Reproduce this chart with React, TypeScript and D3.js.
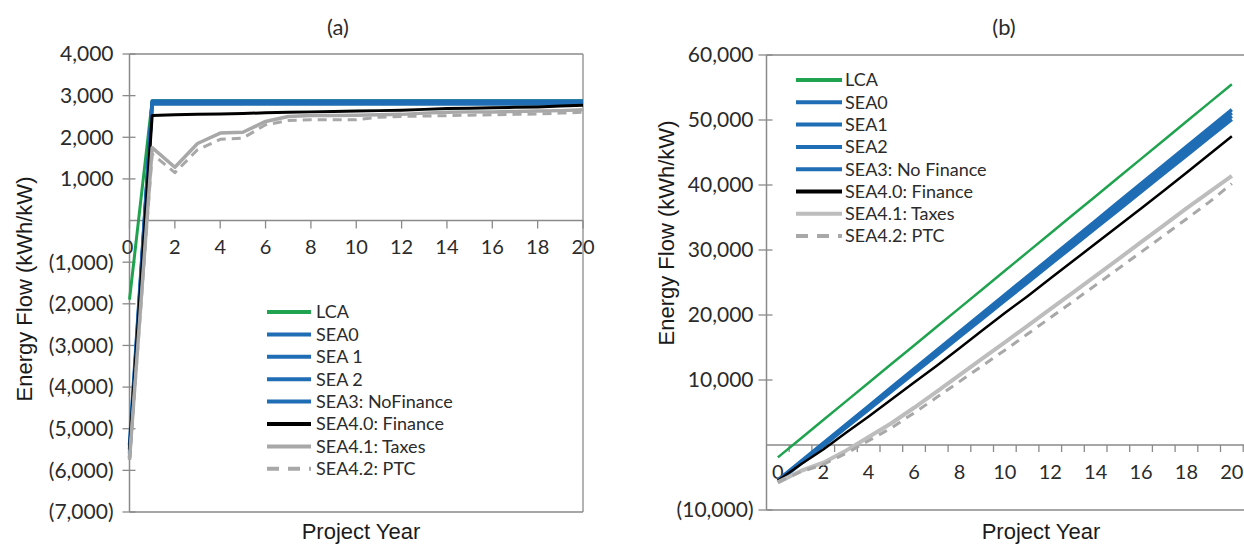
import React from "react";
import * as d3 from "d3";

// ---------- Data ----------
const yearsA = d3.range(0, 21);
const lcaA = [-1900, 2880, 2880, 2880, 2880, 2880, 2880, 2880, 2880, 2880, 2880, 2880, 2880, 2880, 2880, 2880, 2880, 2880, 2880, 2880, 2880];
const sea0A = [-5400, 2870, 2870, 2870, 2870, 2870, 2870, 2870, 2870, 2870, 2870, 2870, 2870, 2870, 2870, 2870, 2870, 2870, 2870, 2870, 2870];
const sea1A = [-5500, 2850, 2850, 2850, 2850, 2850, 2850, 2850, 2850, 2850, 2850, 2850, 2850, 2850, 2850, 2850, 2850, 2850, 2850, 2850, 2850];
const sea2A = [-5600, 2820, 2820, 2820, 2820, 2820, 2820, 2820, 2820, 2820, 2820, 2820, 2820, 2820, 2820, 2820, 2820, 2820, 2820, 2820, 2820];
const sea3A = [-5700, 2800, 2800, 2800, 2800, 2800, 2800, 2800, 2800, 2800, 2800, 2800, 2800, 2800, 2800, 2800, 2800, 2800, 2800, 2800, 2800];
const sea40A = [-5500, 2520, 2540, 2550, 2560, 2570, 2590, 2600, 2610, 2620, 2630, 2640, 2650, 2670, 2690, 2700, 2710, 2720, 2730, 2750, 2770];
const sea41A = [-5750, 1750, 1280, 1850, 2100, 2120, 2380, 2500, 2520, 2520, 2530, 2540, 2550, 2580, 2600, 2610, 2610, 2620, 2630, 2640, 2660];
const sea42A = [-5750, 1600, 1150, 1700, 1950, 1980, 2300, 2400, 2420, 2420, 2420, 2480, 2500, 2510, 2520, 2530, 2540, 2550, 2560, 2580, 2600];

const yearsB = d3.range(0, 21);
const lcaB = [-1900, 970, 3840, 6710, 9580, 12450, 15320, 18190, 21060, 23930, 26800, 29670, 32540, 35410, 38280, 41150, 44020, 46890, 49760, 52630, 55500];
const sea0B = [-5400, -2550, 300, 3150, 6000, 8850, 11700, 14550, 17400, 20250, 23100, 25950, 28800, 31650, 34500, 37350, 40200, 43050, 45900, 48750, 51600];
const sea1B = [-5500, -2670, 160, 2990, 5820, 8650, 11480, 14310, 17140, 19970, 22800, 25630, 28460, 31290, 34120, 36950, 39780, 42610, 45440, 48270, 51100];
const sea2B = [-5600, -2790, 20, 2830, 5640, 8450, 11260, 14070, 16880, 19690, 22500, 25310, 28120, 30930, 33740, 36550, 39360, 42170, 44980, 47790, 50600];
const sea3B = [-5700, -2910, -120, 2670, 5460, 8250, 11040, 13830, 16620, 19410, 22200, 24990, 27780, 30570, 33360, 36150, 38940, 41730, 44520, 47310, 50100];
const sea40B = [-5500, -3000, -700, 1900, 4400, 7000, 9600, 12200, 14900, 17600, 20300, 22900, 25600, 28300, 31000, 33700, 36400, 39100, 41900, 44700, 47500];
const sea41B = [-5750, -4000, -2720, -870, 1230, 3350, 5730, 8230, 10750, 13270, 15800, 18340, 20890, 23450, 26020, 28600, 31200, 33800, 36400, 38900, 41400];
const sea42B = [-5750, -4150, -3000, -1300, 650, 2630, 4930, 7330, 9750, 12170, 14590, 17070, 19570, 22080, 24600, 27130, 29670, 32220, 34780, 37360, 40200];

const ticksA = [4000, 3000, 2000, 1000, -1000, -2000, -3000, -4000, -5000, -6000, -7000];
const ticksB = [60000, 50000, 40000, 30000, 20000, 10000, -10000];
const xLabelsA = [0, 2, 4, 6, 8, 10, 12, 14, 16, 18, 20];
const xLabelsB = [0, 2, 4, 6, 8, 10, 12, 14, 16, 18, 20];

const legendA = ["LCA", "SEA0", "SEA 1", "SEA 2", "SEA3: NoFinance", "SEA4.0: Finance", "SEA4.1: Taxes", "SEA4.2: PTC"];
const legendB = ["LCA", "SEA0", "SEA1", "SEA2", "SEA3: No Finance", "SEA4.0: Finance", "SEA4.1: Taxes", "SEA4.2: PTC"];

// ---------- Styles ----------
const GREEN = "#1fa34f";
const BLUE = "#1f6db4";
const BLACK = "#000000";
const GRAY = "#a8a8a8";
const GRAY_B = "#bdbdbd";
const AXIS = "#8a8a8a";
const TXT = "#2b2b2b";
const LATO = "Lato, 'Open Sans', sans-serif";
const ARIAL = "'Liberation Sans', Arial, sans-serif";

type Style = { color: string; width: number; dash?: string };
const stylesA: Style[] = [
  { color: GREEN, width: 3 },
  { color: BLUE, width: 3.5 },
  { color: BLUE, width: 3.5 },
  { color: BLUE, width: 3.5 },
  { color: BLUE, width: 3.5 },
  { color: BLACK, width: 3 },
  { color: GRAY, width: 3.5 },
  { color: GRAY, width: 3, dash: "9,6" },
];
const stylesB: Style[] = [
  { color: GREEN, width: 2.5 },
  { color: BLUE, width: 3.5 },
  { color: BLUE, width: 3.5 },
  { color: BLUE, width: 3.5 },
  { color: BLUE, width: 3.5 },
  { color: BLACK, width: 2.5 },
  { color: GRAY_B, width: 4 },
  { color: GRAY, width: 3, dash: "9,7" },
];

const fmt = (v: number) => (v < 0 ? `(${d3.format(",")(-v)})` : d3.format(",")(v));

function ChartA() {
  const left = 129.5, right = 583, top = 54, bottom = 512;
  const x = d3.scaleLinear().domain([0, 20]).range([left, right]);
  const y = d3.scaleLinear().domain([-7000, 4000]).range([bottom, top]);
  const series = [lcaA, sea0A, sea1A, sea2A, sea3A, sea40A, sea41A, sea42A];
  const line = d3.line<number>().x((_, i) => x(yearsA[i])).y((d) => y(d));
  const y0 = y(0);
  return (
    <g>
      <text x={338} y={35} textAnchor="middle" fontFamily={LATO} fontSize={22} fill={TXT}>(a)</text>
      <line x1={left} x2={right} y1={top} y2={top} stroke={AXIS} strokeWidth={1.3} />
      <line x1={right} x2={right} y1={top} y2={bottom} stroke={AXIS} strokeWidth={1.3} />
      <line x1={left} x2={right} y1={bottom} y2={bottom} stroke={AXIS} strokeWidth={1.3} />
      <line x1={left} x2={left} y1={top} y2={bottom} stroke={AXIS} strokeWidth={1.5} />
      <line x1={left} x2={right} y1={y0} y2={y0} stroke={AXIS} strokeWidth={1.5} />
      {ticksA.map((t) => (
        <g key={t}>
          <line x1={left - 7} x2={left + 6} y1={y(t)} y2={y(t)} stroke={AXIS} strokeWidth={1.3} />
          <text x={left - 16} y={y(t)} dy="0.35em" textAnchor="end" fontFamily={LATO} fontSize={21} fill={TXT}>{fmt(t)}</text>
        </g>
      ))}
      {xLabelsA.map((t) => (
        <g key={t}>
          <line x1={x(t)} x2={x(t)} y1={y0} y2={y0 + 8} stroke={AXIS} strokeWidth={1.3} />
          <text x={x(t) - (t === 0 ? 2 : 0)} y={247} dy="0.35em" textAnchor="middle" fontFamily={LATO} fontSize={20} fill={TXT}>{t}</text>
        </g>
      ))}
      {series.map((s, i) => (
        <path key={i} d={line(s) || ""} fill="none" stroke={stylesA[i].color} strokeWidth={stylesA[i].width}
          strokeDasharray={stylesA[i].dash} strokeLinejoin="round" />
      ))}
      {legendA.map((name, i) => {
        const yy = 312 + i * 22.4;
        const st = stylesA[i];
        return (
          <g key={name}>
            <line x1={267} x2={311} y1={yy} y2={yy} stroke={st.color} strokeWidth={4}
              strokeDasharray={st.dash ? "12,9" : undefined} />
            <text x={316} y={yy} dy="0.35em" fontFamily={LATO} fontSize={18} fill={TXT}>{name}</text>
          </g>
        );
      })}
      <text transform={`translate(24,289) rotate(-90)`} textAnchor="middle" dy="0.35em" fontFamily={ARIAL} fontSize={22} fill="#1a1a1a">Energy Flow (kWh/kW)</text>
      <text x={361} y={539} textAnchor="middle" fontFamily={ARIAL} fontSize={22} fill="#1a1a1a">Project Year</text>
    </g>
  );
}

function ChartB() {
  const left = 766.5, top = 55, bottom = 510;
  const x = d3.scaleBand<number>().domain(yearsB).range([left, left + 21 * 22.7]).paddingInner(0).paddingOuter(0);
  const bw = x.bandwidth();
  const cx = (i: number) => (x(i) as number) + bw / 2;
  const y = d3.scaleLinear().domain([-10000, 60000]).range([bottom, top]);
  const series = [lcaB, sea0B, sea1B, sea2B, sea3B, sea40B, sea41B, sea42B];
  const line = d3.line<number>().x((_, i) => cx(yearsB[i])).y((d) => y(d));
  const y0 = y(0);
  const right = 1244;
  return (
    <g>
      <text x={1004} y={35} textAnchor="middle" fontFamily={LATO} fontSize={22} fill={TXT}>(b)</text>
      <line x1={left} x2={right} y1={top} y2={top} stroke={AXIS} strokeWidth={1.3} />
      <line x1={left} x2={right} y1={bottom} y2={bottom} stroke={AXIS} strokeWidth={1.3} />
      <line x1={left} x2={left} y1={top} y2={bottom} stroke={AXIS} strokeWidth={1.5} />
      <line x1={left} x2={right} y1={y0} y2={y0} stroke={AXIS} strokeWidth={1.5} />
      {ticksB.map((t) => (
        <g key={t}>
          <line x1={left - 8} x2={left + 6} y1={y(t)} y2={y(t)} stroke={AXIS} strokeWidth={1.3} />
          <text x={left - 13} y={y(t)} dy="0.35em" textAnchor="end" fontFamily={LATO} fontSize={21} fill={TXT}>{fmt(t)}</text>
        </g>
      ))}
      {yearsB.map((t) => (
        <line key={t} x1={(x(t) as number) + bw} x2={(x(t) as number) + bw} y1={y0} y2={y0 + 7} stroke={AXIS} strokeWidth={1.3} />
      ))}
      {xLabelsB.map((t) => (
        <text key={t} x={cx(t)} y={472} dy="0.35em" textAnchor="middle" fontFamily={LATO} fontSize={20} fill={TXT}>{t}</text>
      ))}
      {series.map((s, i) => (
        <path key={i} d={line(s) || ""} fill="none" stroke={stylesB[i].color} strokeWidth={stylesB[i].width}
          strokeDasharray={stylesB[i].dash} strokeLinejoin="round" />
      ))}
      {legendB.map((name, i) => {
        const yy = 80 + i * 22.3;
        const st = stylesB[i];
        return (
          <g key={name}>
            <line x1={796} x2={842} y1={yy} y2={yy} stroke={st.color} strokeWidth={4}
              strokeDasharray={st.dash ? "12,9" : undefined} />
            <text x={845} y={yy} dy="0.35em" fontFamily={LATO} fontSize={18} fill={TXT}>{name}</text>
          </g>
        );
      })}
      <text transform={`translate(666,233) rotate(-90)`} textAnchor="middle" dy="0.35em" fontFamily={ARIAL} fontSize={22} fill="#1a1a1a">Energy Flow (kWh/kW)</text>
      <text x={1041} y={539} textAnchor="middle" fontFamily={ARIAL} fontSize={22} fill="#1a1a1a">Project Year</text>
    </g>
  );
}

export default function App() {
  return (
    <svg width={1244} height={545} style={{ position: "absolute", left: 0, top: 0, background: "#fff" }}>
      <rect width={1244} height={545} fill="#fff" />
      <ChartA />
      <ChartB />
    </svg>
  );
}
